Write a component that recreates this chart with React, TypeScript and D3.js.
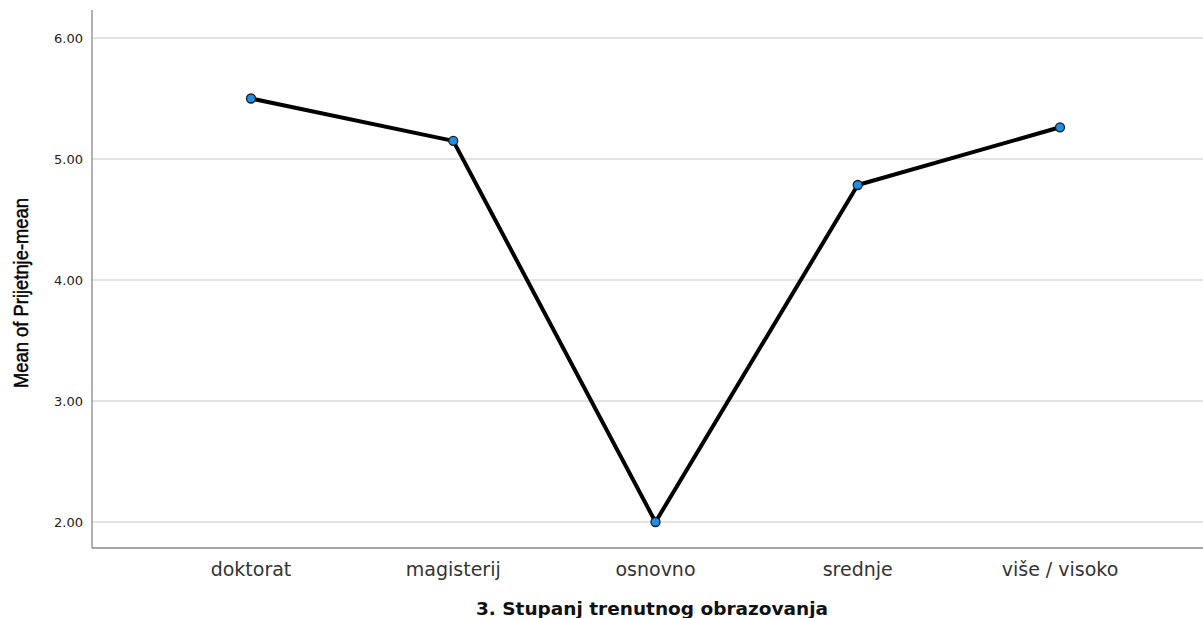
import React from "react";
import * as d3 from "d3";

const categories = ["doktorat", "magisterij", "osnovno", "srednje", "više / visoko"];
const means = [5.5, 5.15, 2.0, 4.785, 5.262];
const yTicks = [2, 3, 4, 5, 6];

export default function App() {
  const W = 1203, H = 618;
  const left = 92, top = 10, right = 1203, bottom = 548;
  const y = d3.scaleLinear().domain([2, 6]).range([522, 38]);
  const x = d3.scalePoint<string>().domain(categories).range([251, 1060]);
  const line = d3.line<number>().x((_, i) => x(categories[i])!).y(d => y(d));
  return (
    <svg width={W} height={H} style={{ position: "absolute", left: 0, top: 0, background: "#fff" }}>
      {yTicks.map(t => (
        <g key={t}>
          <line x1={left} x2={right} y1={y(t)} y2={y(t)} stroke="#c8c8c8" strokeWidth={1} />
          <text x={83} y={y(t) + 5} textAnchor="end" fontFamily="DejaVu Sans, sans-serif" fontSize={13} fill="#222">{d3.format(".2f")(t)}</text>
        </g>
      ))}
      <line x1={left} x2={left} y1={top} y2={bottom} stroke="#888" strokeWidth={1.3} />
      <line x1={left} x2={right} y1={bottom} y2={bottom} stroke="#888" strokeWidth={1.3} />
      <path d={line(means)!} fill="none" stroke="#000" strokeWidth={4} strokeLinejoin="round" />
      {means.map((v, i) => (
        <circle key={i} cx={x(categories[i])} cy={y(v)} r={4.5} fill="#1e8fe6" stroke="#1a1a1a" strokeWidth={1.3} />
      ))}
      {categories.map(c => (
        <text key={c} x={x(c)} y={576} textAnchor="middle" fontFamily="DejaVu Sans, sans-serif" fontSize={19} fill="#333">{c}</text>
      ))}
      <text x={652} y={615} textAnchor="middle" fontFamily="DejaVu Sans, sans-serif" fontWeight="bold" fontSize={18.5} fill="#111">3. Stupanj trenutnog obrazovanja</text>
      <text transform={`translate(28,293) rotate(-90)`} textAnchor="middle" fontFamily="Liberation Sans, Arial, sans-serif" fontSize={20} fill="#000" stroke="#000" strokeWidth={0.45} textLength={190} lengthAdjust="spacingAndGlyphs">Mean of Prijetnje-mean</text>
    </svg>
  );
}
